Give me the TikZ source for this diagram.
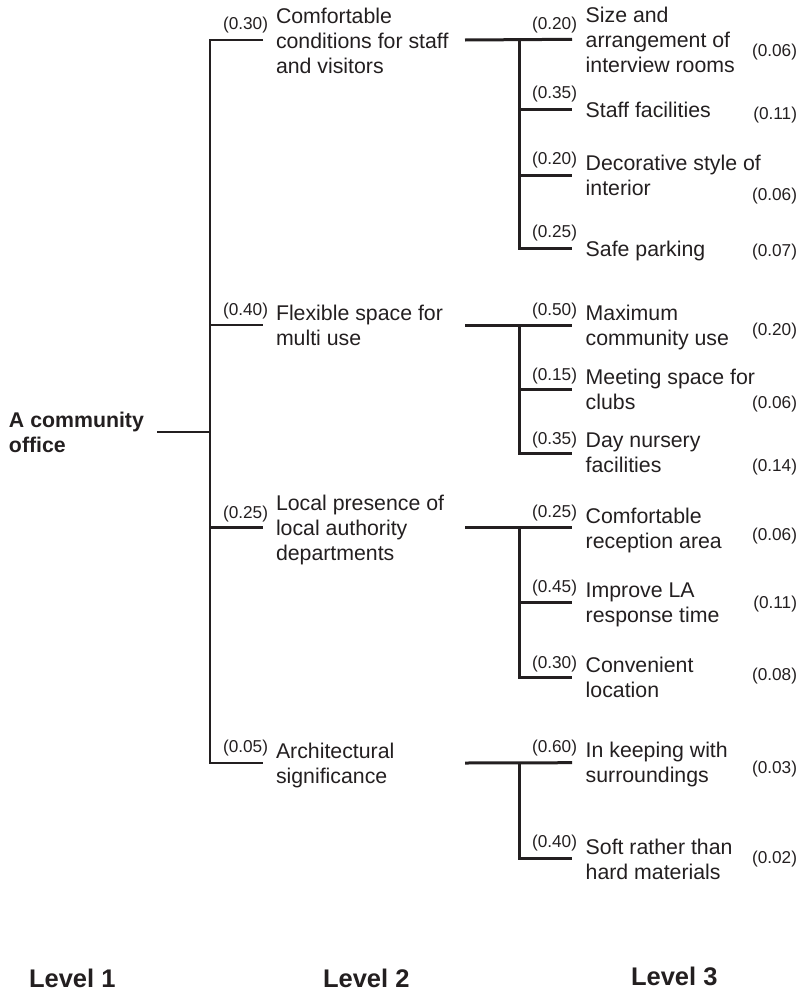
\documentclass[tikz,border=0pt]{standalone}
\usepackage{fontspec}
\setmainfont{Liberation Sans}
\definecolor{ink}{RGB}{35,31,32}
\newcommand{\mlines}[1]{\begin{tabular}[t]{@{}l@{}}#1\end{tabular}}
\begin{document}
\begin{tikzpicture}[x=1pt,y=-1pt,
  every node/.style={inner sep=0pt,outer sep=0pt,text=ink},
  itemtext/.style={font=\fontsize{21.3}{25}\selectfont},
  roottext/.style={font=\fontsize{21.3}{25}\selectfont\bfseries},
  weighttext/.style={font=\fontsize{17.2}{20}\selectfont},
  leveltext/.style={font=\fontsize{25.5}{30}\selectfont\bfseries},
  treeline/.style={draw=ink,line width=2.6pt},
  leafline/.style={draw=ink,line width=3pt}]
\useasboundingbox (0,0) rectangle (803,991);

% ---- root ----
\node[roottext,anchor=base west] (root) at (9,427) {\mlines{A community\\office}};
\coordinate (root-e) at (157,432);
\coordinate (hub) at (210,432);
\draw[treeline] (root-e) -- (hub);

% ---- level 2 criteria ----
\foreach \n/\ly/\wy/\ty/\w/\txt in {
  b1/40/29/23/0.30/{Comfortable\\conditions for staff\\and visitors},
  b2/325/315/320.7/0.40/{Flexible space for\\multi use},
  b3/527.7/518/510.7/0.25/{Local presence of\\local authority\\departments},
  b4/763/752/758/0.05/{Architectural\\significance}}
{
  \coordinate (\n-s) at (210,\ly);
  \coordinate (\n-e) at (263,\ly);
  \coordinate (\n-out) at (465,\ly);
  \node[weighttext,anchor=base east] (\n-w) at (268,\wy) {(\w)};
  \node[itemtext,anchor=base west] (\n-t) at (276,\ty) {\mlines{\txt}};
}
\draw[treeline] (b1-e) -- (b1-s) -- (b4-s) -- (b4-e);
\draw[treeline] (b2-s) -- (b2-e);
\draw[treeline] (b3-s) -- (b3-e);

% ---- level 3 sub-criteria ----
\foreach \n/\ly/\wy/\ty/\fy/\w/\f/\txt in {
  c1/39.3/29/22.7/56.7/0.20/0.06/{Size and\\arrangement of\\interview rooms},
  c2/109.3/98.3/117.7/119/0.35/0.11/{Staff facilities},
  c3/175.7/164.3/170.7/200.7/0.20/0.06/{Decorative style of\\interior},
  c4/248.3/237.7/256/256/0.25/0.07/{Safe parking},
  c5/325/315/320.7/335.7/0.50/0.20/{Maximum\\community use},
  c6/389/380/384.3/408.3/0.15/0.06/{Meeting space for\\clubs},
  c7/453/444/447.3/471/0.35/0.14/{Day nursery\\facilities},
  c8/527.7/517.7/523.3/540/0.25/0.06/{Comfortable\\reception area},
  c9/602.7/592/597.3/608.3/0.45/0.11/{Improve LA\\response time},
  c10/677.3/668.3/672.3/680/0.30/0.08/{Convenient\\location},
  c11/762.7/752.3/757.7/773.3/0.60/0.03/{In keeping with\\surroundings},
  c12/858.3/847.7/854/863.3/0.40/0.02/{Soft rather than\\hard materials}}
{
  \coordinate (\n-s) at (519,\ly);
  \coordinate (\n-e) at (572,\ly);
  \node[weighttext,anchor=base east] (\n-w) at (577,\wy) {(\w)};
  \node[itemtext,anchor=base west] (\n-t) at (585.7,\ty) {\mlines{\txt}};
  \node[weighttext,anchor=base east] (\n-f) at (797,\fy) {(\f)};
}

% group connectors
\draw[leafline] (b1-out) -- (c1-e);
\draw[leafline] (c1-s) -- (c4-s) -- (c4-e);
\draw[leafline] (c2-s) -- (c2-e);
\draw[leafline] (c3-s) -- (c3-e);

\draw[leafline] (b2-out) -- (c5-e);
\draw[leafline] (c5-s) -- (c7-s) -- (c7-e);
\draw[leafline] (c6-s) -- (c6-e);

\draw[leafline] (b3-out) -- (c8-e);
\draw[leafline] (c8-s) -- (c10-s) -- (c10-e);
\draw[leafline] (c9-s) -- (c9-e);

\draw[leafline] (b4-out) -- (c11-e);
\draw[leafline] (c11-s) -- (c12-s) -- (c12-e);

% ---- level captions ----
\node[leveltext,anchor=base west] (lev1) at (29,987) {Level 1};
\node[leveltext,anchor=base west] (lev2) at (323,987) {Level 2};
\node[leveltext,anchor=base west] (lev3) at (631,985) {Level 3};
\end{tikzpicture}
\end{document}
